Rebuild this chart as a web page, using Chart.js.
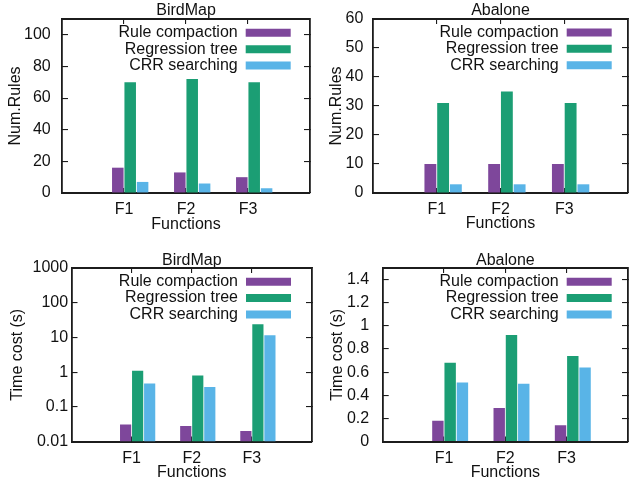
<!DOCTYPE html>
<html><head><meta charset="utf-8">
<script src="https://cdn.jsdelivr.net/npm/chart.js@4.4.1/dist/chart.umd.min.js"></script>
<style>
html,body{margin:0;padding:0;background:#fff;overflow:hidden;width:629px;height:481px;}
#wrap{position:absolute;left:0;top:0;width:629px;height:481px;}
canvas{position:absolute;}
</style></head><body>
<div id="wrap">
<canvas id="c1" width="320" height="240" style="left:0;top:0;width:320px;height:240px"></canvas>
<canvas id="c2" width="309" height="240" style="left:320px;top:0;width:309px;height:240px"></canvas>
<canvas id="c3" width="320" height="241" style="left:0;top:240px;width:320px;height:241px"></canvas>
<canvas id="c4" width="309" height="241" style="left:320px;top:240px;width:309px;height:241px"></canvas>
</div>
<script>
// ---- data ----
const categories = ['F1', 'F2', 'F3'];
const seriesNames = ['Rule compaction', 'Regression tree', 'CRR searching'];
const seriesColors = ['#7e479b', '#1b9e74', '#59b4e7'];

const birdRulesRuleCompaction = [16, 13, 10];
const birdRulesRegressionTree = [70, 72, 70];
const birdRulesCrrSearching = [7, 6, 3];

const abaloneRulesRuleCompaction = [10, 10, 10];
const abaloneRulesRegressionTree = [31, 35, 31];
const abaloneRulesCrrSearching = [3, 3, 3];

const birdTimeRuleCompaction = [0.031, 0.028, 0.02];
const birdTimeRegressionTree = [1.1, 0.8, 24];
const birdTimeCrrSearching = [0.47, 0.37, 11.5];

const abaloneTimeRuleCompaction = [0.18, 0.29, 0.14];
const abaloneTimeRegressionTree = [0.68, 0.92, 0.74];
const abaloneTimeCrrSearching = [0.51, 0.5, 0.64];

const birdRulesTicks = [0, 20, 40, 60, 80, 100];
const birdRulesTickLabels = ['0', '20', '40', '60', '80', '100'];
const abaloneRulesTicks = [0, 10, 20, 30, 40, 50, 60];
const abaloneRulesTickLabels = ['0', '10', '20', '30', '40', '50', '60'];
const birdTimeTicks = [0.01, 0.1, 1, 10, 100, 1000];
const birdTimeTickLabels = ['0.01', '0.1', '1', '10', '100', '1000'];
const abaloneTimeTicks = [0, 0.2, 0.4, 0.6, 0.8, 1, 1.2, 1.4];
const abaloneTimeTickLabels = ['0', '0.2', '0.4', '0.6', '0.8', '1', '1.2', '1.4'];

// ---- style ----
const fontFamily = "'Liberation Sans', Arial, Helvetica, sans-serif";
const fontSize = 16;
const textColor = '#111';
const axisColor = '#1c1c1c';
const barWidthUnits = 0.2;          // clustered histogram: 3 bars + gap 2
const halfBar = barWidthUnits / 2;
const legendPad = 0.35;

const placeLegend = {
  id: 'placeLegend',
  afterLayout(chart, args, opts) {
    const lg = chart.legend; if (!lg) return;
    const ca = chart.chartArea;
    lg.left = ca.right - opts.right + legendPad - lg.width;
    lg.right = lg.left + lg.width;
    lg.top = ca.top + opts.top - legendPad - fontSize / 2;
    lg.bottom = lg.top + lg.height;
  }
};

function gridOpts(len) {
  return { display: true, drawOnChartArea: false, drawTicks: true, tickLength: len,
           color: axisColor, tickColor: axisColor, lineWidth: 1.1, offset: false };
}
function noPad(s) { s.paddingTop = 0; s.paddingBottom = 0; s.paddingLeft = 0; s.paddingRight = 0; }

function panel(id, p) {
  const datasets = p.series.map((vals, k) => ({
    label: seriesNames[k],
    data: vals.map((v, i) => ({ x: i, y: v })),
    backgroundColor: seriesColors[k],
    borderWidth: 0,
    categoryPercentage: barWidthUnits * seriesNames.length,
    barPercentage: 0.93
  }));
  const xTickPos = categories.map((c, i) => i - halfBar);
  const xMin = xTickPos[0] - 1, xMax = xTickPos[xTickPos.length - 1] + 1;
  const setXTicks = s => { s.ticks = xTickPos.map(v => ({ value: v })); };
  const setYTicks = s => { s.ticks = p.yTicks.map(v => ({ value: v })); };
  const font = { family: fontFamily, size: fontSize };
  new Chart(document.getElementById(id), {
    type: 'bar',
    data: { datasets },
    options: {
      responsive: false, animation: false,
      layout: { padding: { left: 0, top: 0, right: p.padR, bottom: 0 } },
      scales: {
        x: { type: 'linear', position: 'bottom', min: xMin, max: xMax, offset: false,
             afterBuildTicks: setXTicks,
             ticks: { callback: (v, i) => categories[i], padding: 12.4, font, color: textColor,
                      maxRotation: 0, autoSkip: false },
             grid: gridOpts(-5), border: { display: true, color: axisColor, width: 2 },
             title: { display: true, text: 'Functions', color: textColor,
                      font: { family: fontFamily, size: fontSize, lineHeight: 1 },
                      padding: { top: 0, bottom: p.xTitlePad } },
             afterFit: s => { s.height = p.xAxisH; noPad(s); } },
        x2: { type: 'linear', position: 'top', min: xMin, max: xMax, offset: false,
              afterBuildTicks: setXTicks, ticks: { display: false },
              grid: gridOpts(-5), border: { display: true, color: axisColor, width: 2 },
              afterFit: s => { s.height = 0; noPad(s); } },
        y: { type: p.yType, position: 'left', min: p.yMin, max: p.yMax,
             afterBuildTicks: setYTicks,
             ticks: { callback: (v, i) => p.yTickLabels[i], padding: p.yTickPad, font, color: textColor, autoSkip: false },
             grid: gridOpts(-6), border: { display: true, color: axisColor, width: 1.8 },
             title: { display: true, text: p.yTitle, color: textColor,
                      font: { family: fontFamily, size: fontSize, lineHeight: 1.2 },
                      padding: { top: p.yTitlePad, bottom: 0 } },
             afterFit: s => { s.width = p.yAxisW; noPad(s); } },
        y2: { type: p.yType, position: 'right', min: p.yMin, max: p.yMax,
              afterBuildTicks: setYTicks, ticks: { display: false },
              grid: gridOpts(-6), border: { display: true, color: axisColor, width: 1.8 },
              afterFit: s => { s.width = 0; noPad(s); } }
      },
      plugins: {
        title: { display: true, text: p.title, fullSize: false, color: textColor,
                 font: { family: fontFamily, size: fontSize, weight: 'normal', lineHeight: 1 },
                 padding: { top: p.tPadTop, bottom: p.tPadBottom } },
        legend: { display: true, position: 'chartArea', align: 'start', rtl: true,
                  labels: { boxWidth: 45, boxHeight: 8, padding: legendPad, font, color: textColor, textAlign: 'left' } },
        tooltip: { enabled: false },
        placeLegend: { right: p.legendR, top: p.legendT }
      }
    },
    plugins: [placeLegend]
  });
}

panel('c1', { title: 'BirdMap', tPadTop: 2.8, tPadBottom: 0.2,
  yTitle: 'Num.Rules', yTitlePad: 5.9, yAxisW: 62, yTickPad: 17.3,
  yType: 'linear', yMin: 0, yMax: 110, yTicks: birdRulesTicks, yTickLabels: birdRulesTickLabels,
  xAxisH: 47, xTitlePad: 7.5, padR: 10, legendR: 19.3, legendT: 13.8,
  series: [birdRulesRuleCompaction, birdRulesRegressionTree, birdRulesCrrSearching] });

panel('c2', { title: 'Abalone', tPadTop: 3, tPadBottom: 0,
  yTitle: 'Num.Rules', yTitlePad: 7.1, yAxisW: 53, yTickPad: 15.7,
  yType: 'linear', yMin: 0, yMax: 60, yTicks: abaloneRulesTicks, yTickLabels: abaloneRulesTickLabels,
  xAxisH: 47, xTitlePad: 8.7, padR: 1, legendR: 16.3, legendT: 13.5,
  series: [abaloneRulesRuleCompaction, abaloneRulesRegressionTree, abaloneRulesCrrSearching] });

panel('c3', { title: 'BirdMap', tPadTop: 12.5, tPadBottom: -0.5,
  yTitle: 'Time cost (s)', yTitlePad: 7.9, yAxisW: 71.5, yTickPad: 9.4,
  yType: 'logarithmic', yMin: 0.01, yMax: 1000, yTicks: birdTimeTicks, yTickLabels: birdTimeTickLabels,
  xAxisH: 39.5, xTitlePad: 0, padR: 8, legendR: 21, legendT: 13.7,
  series: [birdTimeRuleCompaction, birdTimeRegressionTree, birdTimeCrrSearching] });

panel('c4', { title: 'Abalone', tPadTop: 12.5, tPadBottom: -0.5,
  yTitle: 'Time cost (s)', yTitlePad: 7.9, yAxisW: 62.7, yTickPad: 19.5,
  yType: 'linear', yMin: 0, yMax: 1.5, yTicks: abaloneTimeTicks, yTickLabels: abaloneTimeTickLabels,
  xAxisH: 39.5, xTitlePad: 0, padR: 1, legendR: 16.3, legendT: 13.7,
  series: [abaloneTimeRuleCompaction, abaloneTimeRegressionTree, abaloneTimeCrrSearching] });
</script>
</body></html>
